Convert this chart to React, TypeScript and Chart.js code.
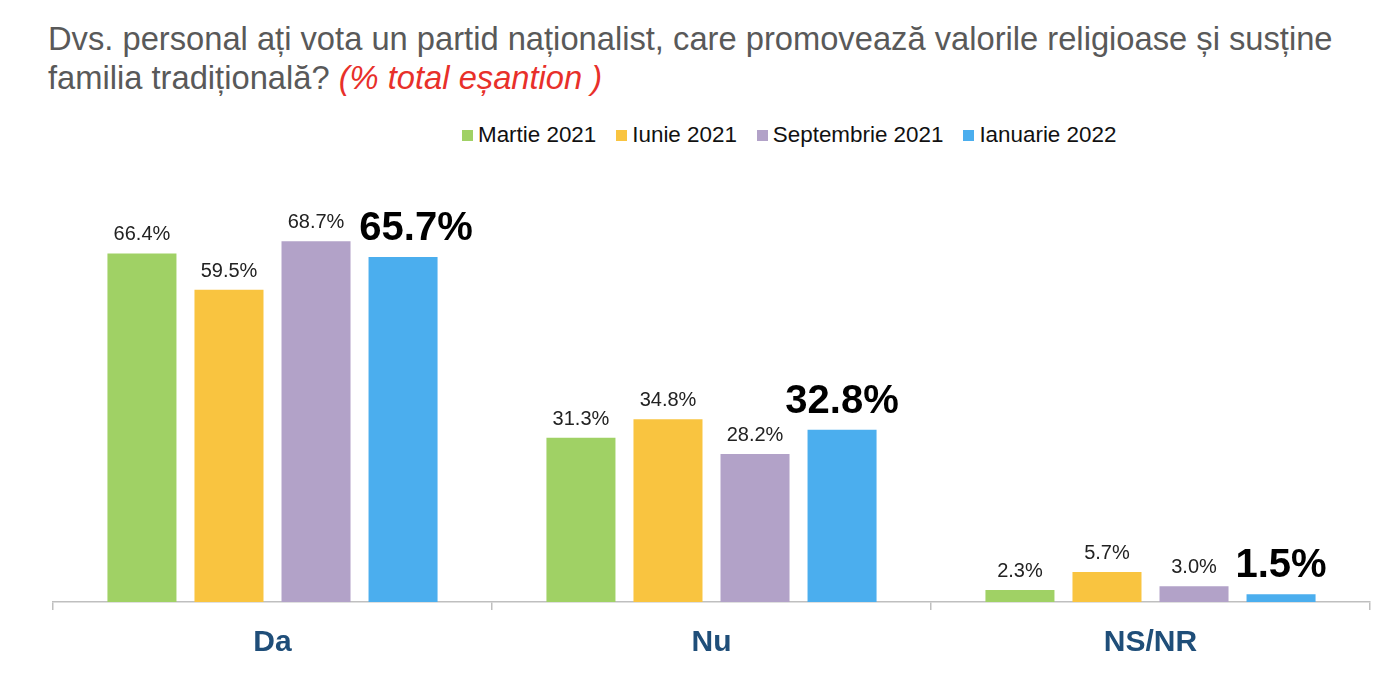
import React, { useEffect, useRef } from "react";
import { Chart, registerables } from "chart.js";

Chart.register(...registerables);

const categories = ["Da", "Nu", "NS/NR"];
const seriesNames = ["Martie 2021", "Iunie 2021", "Septembrie 2021", "Ianuarie 2022"];
const martie2021 = [66.4, 31.3, 2.3];
const iunie2021 = [59.5, 34.8, 5.7];
const septembrie2021 = [68.7, 28.2, 3.0];
const ianuarie2022 = [65.7, 32.8, 1.5];
const seriesColors = ["#A0D165", "#F9C440", "#B2A2C8", "#4BAEEE"];

const FONT = "'Liberation Sans', Arial, Helvetica, sans-serif";

const labelPlugin = {
  id: "valueLabels",
  afterDatasetsDraw(chart: any) {
    const ctx = chart.ctx;
    const n = chart.data.datasets.length;
    const nCat = chart.data.labels.length;
    for (let i = 0; i < nCat; i++) {
      let prevRight = -Infinity;
      let prevBaseline = Infinity;
      for (let di = 0; di < n; di++) {
        const ds = chart.data.datasets[di];
        const el: any = chart.getDatasetMeta(di).data[i];
        const last = di === n - 1;
        const text = ds.data[i].toFixed(1) + "%";
        ctx.save();
        ctx.fillStyle = last ? "#000000" : "#222222";
        ctx.font = last ? `bold 40px ${FONT}` : `20px ${FONT}`;
        ctx.textAlign = "left";
        ctx.textBaseline = "alphabetic";
        const w = ctx.measureText(text).width;
        let left = el.x - w / 2;
        const baseline = el.y - (last ? 17 : 13);
        const verticalOverlap = prevBaseline - 15 < baseline;
        if (last && verticalOverlap && left < prevRight + 15) {
          left = prevRight + 15;
        }
        ctx.fillText(text, left, baseline);
        ctx.restore();
        prevRight = left + w;
        prevBaseline = baseline;
      }
    }
  },
};

export default function App() {
  const ref = useRef<HTMLCanvasElement | null>(null);
  useEffect(() => {
    document.body.style.margin = "0";
    const data = [martie2021, iunie2021, septembrie2021, ianuarie2022];
    const chart = new Chart(ref.current as HTMLCanvasElement, {
      type: "bar",
      data: {
        labels: categories,
        datasets: seriesNames.map((name, i) => ({
          label: name,
          data: data[i],
          backgroundColor: seriesColors[i],
          borderWidth: 0,
          categoryPercentage: 0.793,
          barPercentage: 0.793,
        })),
      },
      options: {
        responsive: false,
        animation: false,
        devicePixelRatio: 1,
        layout: { padding: { left: 53, right: 30, top: 182, bottom: 2 } },
        plugins: {
          legend: { display: false },
          title: { display: false },
          tooltip: { enabled: false },
        },
        scales: {
          y: { display: false, min: 0, max: 80 },
          x: {
            grid: {
              display: true,
              drawOnChartArea: false,
              drawTicks: true,
              tickLength: 8,
              color: "#BFBFBF",
              lineWidth: 1.5,
            },
            border: { display: true, color: "#BFBFBF", width: 1.5 },
            ticks: {
              color: "#1F4E79",
              padding: 15,
              font: { family: FONT, size: 30, weight: "bold" },
            },
          },
        },
      },
      plugins: [labelPlugin],
    } as any);
    return () => chart.destroy();
  }, []);

  return (
    <div style={{ position: "relative", width: 1400, height: 678, fontFamily: FONT, background: "#fff" }}>
      <div
        style={{
          position: "absolute",
          left: 48,
          top: 19,
          fontSize: 32.7,
          lineHeight: "39px",
          color: "#595959",
          whiteSpace: "nowrap",
        }}
      >
        Dvs. personal ați vota un partid naționalist, care promovează valorile religioase și susține
        <br />
        familia tradițională?{" "}
        <span style={{ color: "#E8302A", fontStyle: "italic" }}>(% total eșantion )</span>
      </div>
      <div
        style={{
          position: "absolute",
          left: 462,
          top: 122,
          display: "flex",
          alignItems: "center",
          fontSize: 22.4,
          color: "#111",
          whiteSpace: "nowrap",
        }}
      >
        {seriesNames.map((name, i) => (
          <div key={name} style={{ display: "flex", alignItems: "center", marginRight: i < 3 ? 20 : 0 }}>
            <span
              style={{ display: "inline-block", width: 11, height: 11, background: seriesColors[i], marginRight: 5 }}
            />
            <span>{name}</span>
          </div>
        ))}
      </div>
      <canvas ref={ref} width={1400} height={678} style={{ position: "absolute", left: 0, top: 0 }} />
    </div>
  );
}
